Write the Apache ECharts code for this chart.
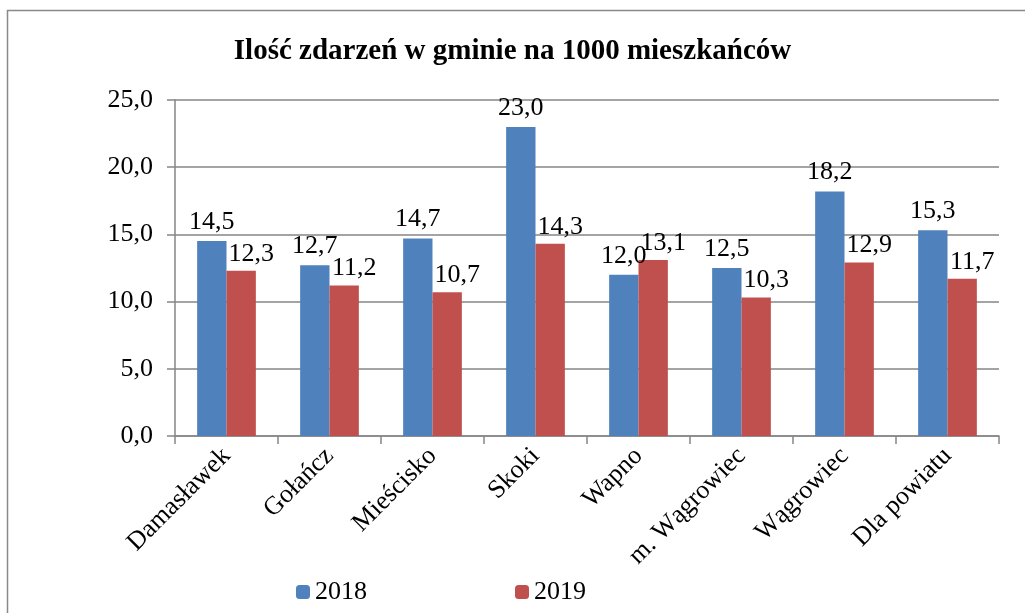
<!DOCTYPE html>
<html>
<head>
<meta charset="utf-8">
<script src="https://cdn.jsdelivr.net/npm/echarts@6/dist/echarts.min.js"></script>
<style>
  html, body { margin: 0; padding: 0; background: #fff; }
  #chart { width: 1025px; height: 613px; }
</style>
</head>
<body>
<div id="chart"></div>
<script>
const categories = ['Damasławek', 'Gołańcz', 'Mieścisko', 'Skoki', 'Wapno', 'm. Wągrowiec', 'Wągrowiec', 'Dla powiatu']
const values2018 = [14.5, 12.7, 14.7, 23.0, 12.0, 12.5, 18.2, 15.3]
const values2019 = [12.3, 11.2, 10.7, 14.3, 13.1, 10.3, 12.9, 11.7]
const yTicks = { min: 0, max: 25, interval: 5 }

const font = 'Liberation Serif'
const fmt = v => v.toFixed(1).replace('.', ',')

const chart = echarts.init(document.getElementById('chart'))

const option = {
    animation: false,
    textStyle: { fontFamily: font, color: '#000' },
    title: {
        text: 'Ilość zdarzeń w gminie na 1000 mieszkańców',
        left: 'center',
        top: 32,
        textStyle: { fontFamily: font, fontSize: 29, fontWeight: 'bold', color: '#000' }
    },
    graphic: [{
        type: 'rect',
        shape: { x: 7.5, y: 10.5, width: 1030, height: 620 },
        style: { fill: 'none', stroke: '#898989', lineWidth: 1.5 },
        silent: true
    }],
    legend: {
        bottom: 3,
        left: 291,
        itemGap: 148,
        itemWidth: 14,
        itemHeight: 14,
        textStyle: { fontFamily: font, fontSize: 26, color: '#000' },
        data: ['2018', '2019']
    },
    grid: { left: 175, right: 26, top: 100, bottom: 177 },
    xAxis: {
        type: 'category',
        data: categories,
        axisLine: { lineStyle: { color: '#868686', width: 1.5 } },
        axisTick: { show: true, length: 8, interval: 0, lineStyle: { color: '#868686', width: 1.5 } },
        axisLabel: {
            interval: 0,
            rotate: 45,
            fontFamily: font,
            fontSize: 26,
            color: '#000',
            margin: 16
        }
    },
    yAxis: {
        type: 'value',
        min: yTicks.min,
        max: yTicks.max,
        interval: yTicks.interval,
        axisLine: { show: true, lineStyle: { color: '#868686', width: 1.5 } },
        axisTick: { show: true, length: 8, lineStyle: { color: '#868686', width: 1.5 } },
        splitLine: { lineStyle: { color: '#868686', width: 1.5 } },
        axisLabel: {
            fontFamily: font,
            fontSize: 26,
            color: '#000',
            margin: 22,
            formatter: v => fmt(v)
        }
    },
    series: [
        {
            name: '2018',
            type: 'bar',
            data: values2018,
            barGap: '0%',
            barCategoryGap: '43%',
            itemStyle: { color: '#4F81BD' },
            label: {
                show: true,
                position: 'top',
                distance: 6,
                fontFamily: font,
                fontSize: 26,
                color: '#000',
                formatter: p => fmt(p.value)
            }
        },
        {
            name: '2019',
            type: 'bar',
            data: values2019,
            itemStyle: { color: '#C0504D' },
            label: {
                show: true,
                position: 'top',
                distance: 4,
                offset: [10, 0],
                fontFamily: font,
                fontSize: 26,
                color: '#000',
                formatter: p => fmt(p.value)
            }
        }
    ]
}

chart.setOption(option)
</script>
</body>
</html>
